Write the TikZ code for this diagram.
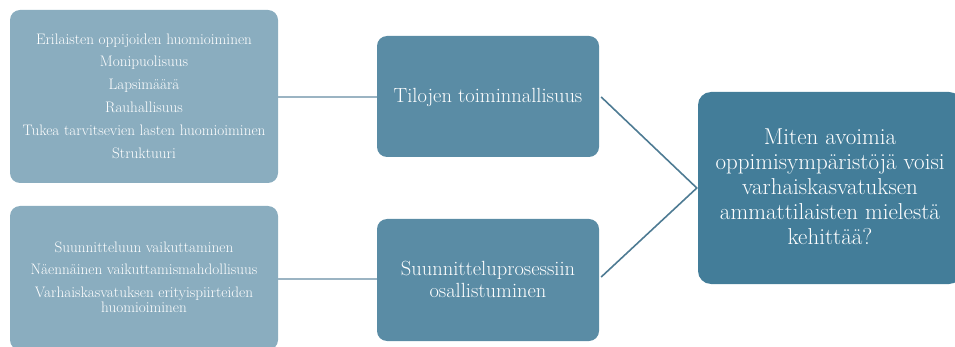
\documentclass[tikz,border=0pt]{standalone}
\usetikzlibrary{calc}
\definecolor{lightbox}{HTML}{8AADBF}
\definecolor{midbox}{HTML}{5A8CA5}
\definecolor{darkbox}{HTML}{437D99}
\definecolor{lightline}{HTML}{9BB4C3}
\definecolor{darkline}{HTML}{4E7B93}
\tikzset{
  boxbase/.style={rounded corners=10pt, inner sep=0pt, draw=none},
  leftbox/.style={boxbase, fill=lightbox, minimum width=268pt},
  midbox/.style={boxbase, fill=midbox, minimum width=222pt},
  rightbox/.style={boxbase, fill=darkbox, rounded corners=13pt, minimum width=264pt, minimum height=192pt},
  lefttext/.style={text=white, align=center, font=\fontsize{15.2}{22.8}\selectfont, inner sep=0pt},
  midtext/.style={text=white, align=center, font=\fontsize{20.5}{22}\selectfont, inner sep=0pt},
  righttext/.style={text=white, align=center, font=\fontsize{23}{25}\selectfont, inner sep=0pt},
  lightconn/.style={draw=lightline, line width=1.6pt},
  darkconn/.style={draw=darkline, line width=1.6pt},
}
\begin{document}
\begin{tikzpicture}[x=1pt,y=-1pt]
\useasboundingbox (0,0) rectangle (955,347);
% left boxes
\node[leftbox, minimum height=173pt] (l1) at (144,96.5) {};
\node[lefttext] (l1t) at (144,96) {Erilaisten oppijoiden huomioiminen\\Monipuolisuus\\Lapsimäärä\\Rauhallisuus\\Tukea tarvitsevien lasten huomioiminen\\Struktuuri};
\node[leftbox, minimum height=144pt] (l2) at (144,278) {};
\node[lefttext] (l2t) at (144,277) {Suunnitteluun vaikuttaminen\\Näennäinen vaikuttamismahdollisuus\\Varhaiskasvatuksen erityispiirteiden\\[-8pt]huomioiminen};
% middle boxes
\node[midbox, minimum height=121pt] (m1) at (488,96.5) {};
\node[midtext] (m1t) at (488,97) {Tilojen toiminnallisuus};
\node[midbox, minimum height=122pt] (m2) at (488,280) {};
\node[midtext] (m2t) at (488,279) {Suunnitteluprosessiin\\osallistuminen};
% right box
\node[rightbox] (r) at (830,188) {};
\node[righttext] (rt) at (830,187) {Miten avoimia\\oppimisympäristöjä voisi\\varhaiskasvatuksen\\ammattilaisten mielestä\\kehittää?};
% connectors
\draw[lightconn] (l1.east |- m1t) -- (m1.west |- m1t);
\draw[lightconn] (l2.east |- m2t) -- (m2.west |- m2t);
\coordinate (rj) at ($(r.west)+(-1,0)$);
\draw[darkconn] ($(m1.east |- m1t)+(2,0)$) -- (rj) -- ($(m2.east |- m2t)+(2,-2)$);
\end{tikzpicture}
\end{document}
